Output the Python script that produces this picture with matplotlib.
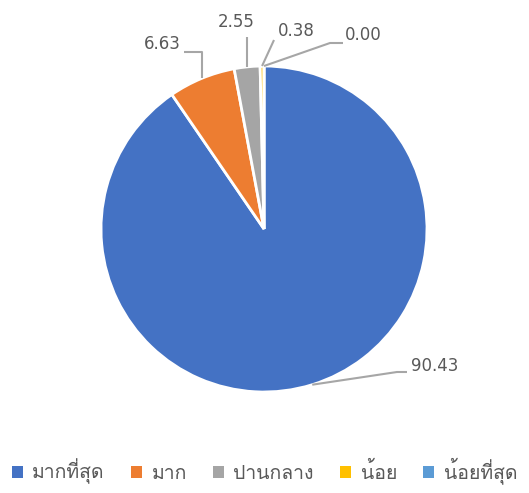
import numpy as np
import matplotlib
matplotlib.use("Agg")
import matplotlib.pyplot as plt
from matplotlib.patches import Patch

plt.rcParams['font.family'] = ['Noto Sans Thai UI', 'DejaVu Sans']

# data
categories = ['มากที่สุด', 'มาก', 'ปานกลาง', 'น้อย', 'น้อยที่สุด']
values = [90.43, 6.63, 2.55, 0.38, 0.00]
colors = ['#4472C4', '#ED7D31', '#A5A5A5', '#FFC000', '#5B9BD5']

W, H = 529, 493
cx, cy, R = 264, 229, 163

fig = plt.figure(figsize=(W / 100, H / 100), dpi=100)
ax = fig.add_axes([0, 0, 1, 1])

wedges, _ = ax.pie(values, colors=colors, startangle=90, counterclock=False,
                   radius=1, center=(0, 0), frame=True,
                   wedgeprops=dict(edgecolor='white', linewidth=2))
ax.set_xlim(-cx / R, (W - cx) / R)
ax.set_ylim(-(H - cy) / R, cy / R)
ax.axis('off')


# pixel -> data helper
def px(x, y):
    return (x - cx) / R, (cy - y) / R


# label layout in pixels: text anchor, alignment, leader bend points
layout = [
    ((411, 366), 'left', [(397, 372), (407, 372)]),
    ((181, 44), 'right', [(None, 52), (184, 52)]),
    ((236, 22), 'center', [(None, 37)]),
    ((278, 31), 'left', [(274, 40)]),
    ((345, 35), 'left', [(330, 43), (343, 43)]),
]

line_col = '#A6A6A6'
for w, v, (tpos, ha, bends) in zip(wedges, values, layout):
    mid = np.deg2rad((w.theta1 + w.theta2) / 2)
    sx, sy = np.cos(mid), np.sin(mid)
    xs, ys = [sx], [sy]
    for bx, by in bends:
        if bx is None:
            xs.append(sx)
            ys.append(px(0, by)[1])
        else:
            dx, dy = px(bx, by)
            xs.append(dx)
            ys.append(dy)
    ax.plot(xs, ys, color=line_col, lw=1.5, solid_capstyle='butt')
    tx, ty = px(*tpos)
    ax.text(tx, ty, f'{v:.2f}', ha=ha, va='center', fontsize=12, color='#595959')

# legend in Loma so the stacked Thai marks sit right
handles = [Patch(facecolor=c, edgecolor='none') for c in colors]
fig.legend(handles, categories, loc='center', bbox_to_anchor=(0.5, 22 / H),
           ncol=5, frameon=False, handlelength=0.55, handleheight=0.55,
           handletextpad=0.5, columnspacing=1.35, labelcolor='#595959',
           prop=dict(family=['Loma', 'DejaVu Sans'], size=14))

fig.savefig('out.png', dpi=100)
